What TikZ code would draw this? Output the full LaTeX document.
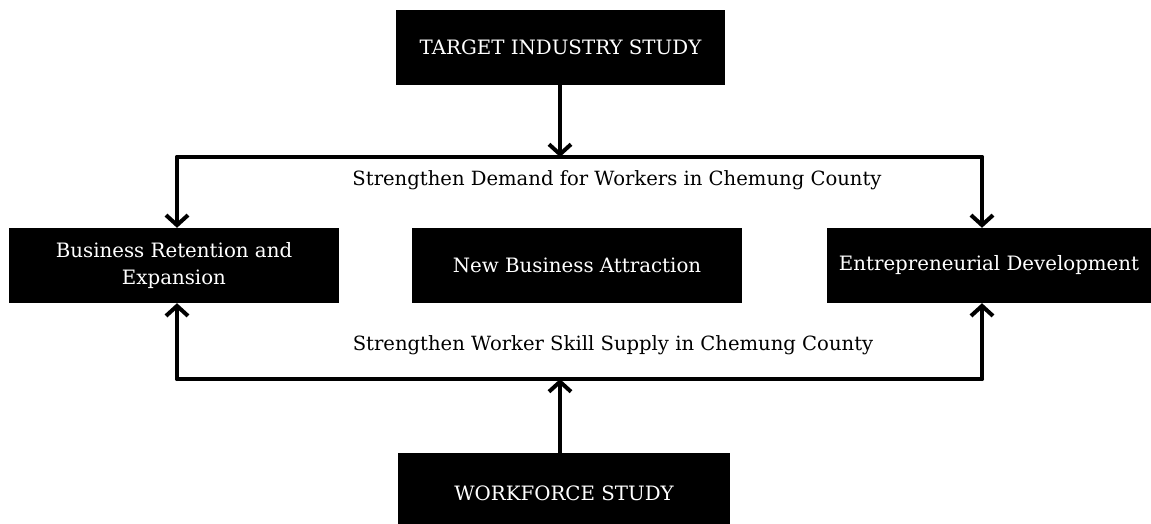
\documentclass[tikz,border=0pt]{standalone}
\usepackage{fontspec}
\setmainfont{DejaVu Serif}
\usetikzlibrary{arrows.meta}
\begin{document}
\begin{tikzpicture}[x=1pt,y=-1pt,
  box/.style={fill=black,text=white,minimum height=75pt,inner sep=2pt,align=center,font=\fontsize{19.8}{27}\selectfont},
  lbl/.style={text=black,font=\fontsize{19.6}{24}\selectfont,inner sep=0pt},
  conn/.style={line width=4pt,line cap=round,line join=miter},
  arr/.style={conn,-{Straight Barb[length=10pt,width=22pt]}}]
\useasboundingbox (0,0) rectangle (1151,523);
\node[box,minimum width=329pt] (top) at (560.5,47.5) {TARGET INDUSTRY STUDY};
\node[box,minimum width=330pt] (left) at (174,265.5) {Business Retention and\\Expansion};
\node[box,minimum width=330pt] (mid) at (577,265.5) {New Business Attraction};
\node[box,minimum width=324pt] (right) at (989,265.5) {Entrepreneurial Development};
\node[box,minimum width=332pt,minimum height=80pt,anchor=north] (bot) at (564,453) {WORKFORCE STUDY};
\coordinate (tl) at (177,157);
\coordinate (tr) at (982,157);
\coordinate (bl) at (177,379);
\coordinate (br) at (982,379);
\draw[conn] (tl) -- (tr);
\draw[conn] (bl) -- (br);
\draw[arr] (top.south -| 560,0) -- (560,157);
\draw[arr] (tl) -- (tl |- left.north);
\draw[arr] (tr) -- (tr |- right.north);
\draw[arr] (560,453) -- (560,379);
\draw[arr] (bl) -- (bl |- left.south);
\draw[arr] (br) -- (br |- right.south);
\node[lbl] (d) at (617,180) {Strengthen Demand for Workers in Chemung County};
\node[lbl] (s) at (613,345) {Strengthen Worker Skill Supply in Chemung County};
\end{tikzpicture}
\end{document}
